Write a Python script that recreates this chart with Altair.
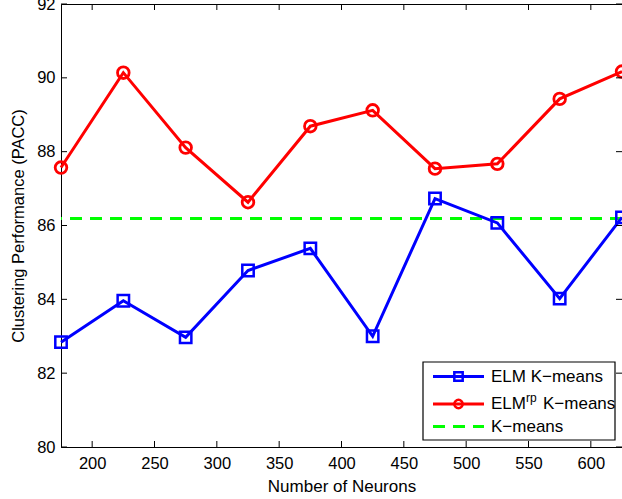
import altair as alt
import pandas as pd

# Number of hidden neurons and clustering accuracy (PACC) per method
neurons = [175, 225, 275, 325, 375, 425, 475, 525, 575, 625]
elm_kmeans = [82.84, 83.96, 82.97, 84.78, 85.38, 83.00, 86.73, 86.07, 84.02, 86.22]
elm_rp_kmeans = [87.57, 90.14, 88.11, 86.63, 88.69, 89.12, 87.54, 87.67, 89.43, 90.17]
kmeans_baseline = 86.19

x_ticks = [200, 250, 300, 350, 400, 450, 500, 550, 600]
y_ticks = [80, 82, 84, 86, 88, 90, 92]

W, H = 561, 443
FONT = "Liberation Sans"
FS = 16.5
LFS = 17
TICK = 6

blue = "#0000ff"
red = "#ff0000"
green = "#00ff00"

df_elm = pd.DataFrame({"n": neurons, "pacc": elm_kmeans})
df_rp = pd.DataFrame({"n": neurons, "pacc": elm_rp_kmeans})

xs = alt.Scale(domain=[175, 625], nice=False, zero=False)
ys = alt.Scale(domain=[80, 92], nice=False, zero=False)

x_axis = alt.Axis(values=x_ticks, title="Number of Neurons", ticks=False, tickSize=0,
                  grid=False, labelPadding=8, titleY=31, titleBaseline="top",
                  labelFontSize=FS, titleFontSize=LFS, titleFontWeight="normal")
y_axis = alt.Axis(values=y_ticks, title="Clustering Performance (PACC)", ticks=False,
                  tickSize=0, grid=False, labelPadding=6, titleX=-43, titleY=H / 2,
                  titleAngle=270, titleBaseline="middle", titleAlign="center",
                  labelFontSize=FS, titleFontSize=FS, titleFontWeight="normal")

X = alt.X("n:Q", scale=xs, axis=x_axis)
Y = alt.Y("pacc:Q", scale=ys, axis=y_axis)

elm_line = alt.Chart(df_elm).mark_line(color=blue, strokeWidth=3).encode(x=X, y=Y)
elm_pts = alt.Chart(df_elm).mark_point(shape="square", size=130, color=blue, strokeWidth=2.5,
                                       filled=False, opacity=1).encode(x=X, y=Y)
rp_line = alt.Chart(df_rp).mark_line(color=red, strokeWidth=3).encode(x=X, y=Y)
rp_pts = alt.Chart(df_rp).mark_point(shape="circle", size=135, color=red, strokeWidth=2.8,
                                     filled=False, opacity=1).encode(x=X, y=Y)

base_rule = alt.Chart(pd.DataFrame({"pacc": [kmeans_baseline]})).mark_rule(
    color=green, strokeWidth=3, strokeDash=[12, 8]
).encode(y=alt.Y("pacc:Q", scale=ys))

# Inward tick marks on all four sides
xt = pd.DataFrame({"n": x_ticks})
yt = pd.DataFrame({"pacc": y_ticks})
tick_style = dict(color="black", strokeWidth=1)
xb = alt.Chart(xt).mark_rule(**tick_style).encode(
    x=alt.X("n:Q", scale=xs), y=alt.value(H), y2=alt.value(H - TICK))
xtop = alt.Chart(xt).mark_rule(**tick_style).encode(
    x=alt.X("n:Q", scale=xs), y=alt.value(0), y2=alt.value(TICK))
yl = alt.Chart(yt).mark_rule(**tick_style).encode(
    y=alt.Y("pacc:Q", scale=ys), x=alt.value(0), x2=alt.value(TICK))
yr = alt.Chart(yt).mark_rule(**tick_style).encode(
    y=alt.Y("pacc:Q", scale=ys), x=alt.value(W - TICK), x2=alt.value(W))

# Legend box in the lower right corner
lx0, lx1, ly0, ly1 = 362, 554, 358, 436
rows = [372.5, 400, 422.5]
sx0, sx1, sm = 372, 423, 397.5
tx = 430

leg_box = alt.Chart(pd.DataFrame({"a": [0]})).mark_rect(
    fill="white", stroke="black", strokeWidth=1.2
).encode(x=alt.value(lx0), x2=alt.value(lx1), y=alt.value(ly0), y2=alt.value(ly1))

one = pd.DataFrame({"a": [0]})


def sample_line(color, yy, dash=None):
    kw = dict(color=color, strokeWidth=3)
    if dash:
        kw["strokeDash"] = dash
    return alt.Chart(one).mark_rule(**kw).encode(
        x=alt.value(sx0), x2=alt.value(sx1), y=alt.value(yy))


def leg_text(txt, xx, yy, size=LFS, dy=0):
    return alt.Chart(one).mark_text(
        text=txt, align="left", baseline="middle", font=FONT, fontSize=size, color="black", dy=dy
    ).encode(x=alt.value(xx), y=alt.value(yy))


leg_l1 = sample_line(blue, rows[0])
leg_p1 = alt.Chart(one).mark_point(shape="square", size=70, color=blue, strokeWidth=2.5,
                                   filled=False, opacity=1).encode(x=alt.value(sm), y=alt.value(rows[0]))
leg_l2 = sample_line(red, rows[1])
leg_p2 = alt.Chart(one).mark_point(shape="circle", size=70, color=red, strokeWidth=2.5,
                                   filled=False, opacity=1).encode(x=alt.value(sm), y=alt.value(rows[1]))
leg_l3 = sample_line(green, rows[2], dash=[12, 8])

t1 = leg_text("ELM K\u2212means", tx, rows[0])
t2a = leg_text("ELM", tx, rows[1])
t2b = leg_text("rp", tx + 35, rows[1], size=12, dy=-6)
t2c = leg_text("K\u2212means", tx + 52, rows[1])
t3 = leg_text("K\u2212means", tx, rows[2])

chart = alt.layer(
    base_rule, elm_line, rp_line, elm_pts, rp_pts,
    xb, xtop, yl, yr,
    leg_box, leg_l1, leg_p1, leg_l2, leg_p2, leg_l3, t1, t2a, t2b, t2c, t3,
).properties(
    width=W, height=H,
    padding={"left": 61, "top": 4, "right": 0, "bottom": 52},
    autosize=alt.AutoSizeParams(type="none"),
    background="white",
).configure_view(
    stroke="black", strokeWidth=1
).configure_axis(
    domainColor="black", domainWidth=1, grid=False,
    labelFont=FONT, titleFont=FONT, labelColor="black", titleColor="black",
    titleFontWeight="normal",
)

chart.save("out.html", embed_options={"renderer": "svg", "actions": False})
